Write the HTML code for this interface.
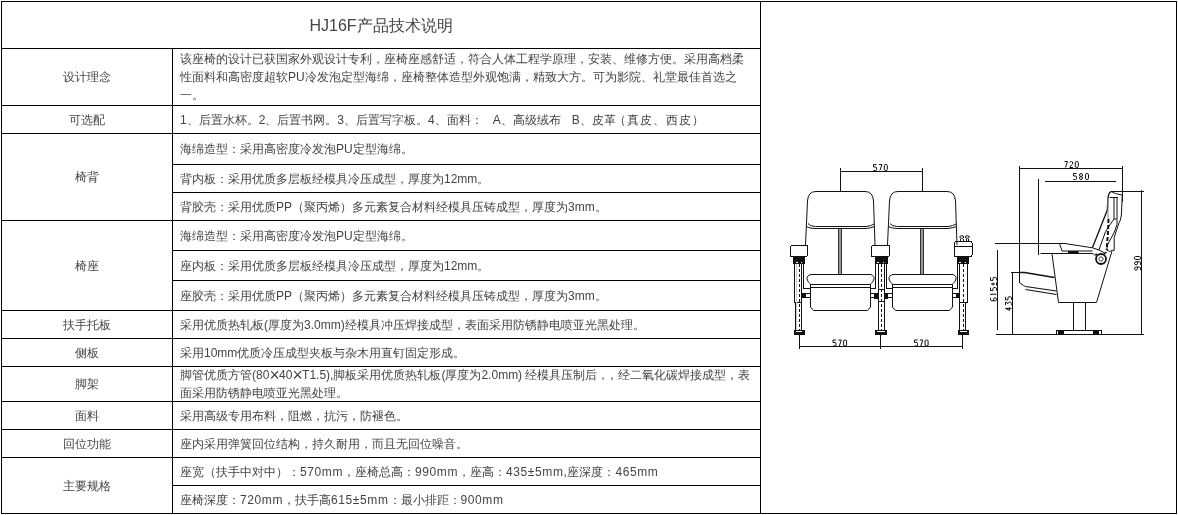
<!DOCTYPE html>
<html><head><meta charset="utf-8"><style>
html,body{margin:0;padding:0;background:#fff;}
body{width:1178px;height:515px;position:relative;overflow:hidden;font-family:"Liberation Sans",sans-serif;font-size:12px;color:#444;}
.l{position:absolute;background:#000;}
.c{position:absolute;display:flex;align-items:center;will-change:transform;}
.c span{white-space:nowrap;line-height:18px;display:block;}
.lab{left:2px;width:170px;justify-content:center;}
.con{left:173px;width:587px;}
.con span{padding-left:7px;}
i{font-style:normal;}
.n{letter-spacing:0.6px;}
.x{display:inline-block;transform:scale(1.45,1.6);margin:0 1.2px 0 1.5px;}
.title{will-change:transform;position:absolute;left:2px;top:3px;width:758px;height:46px;display:flex;align-items:center;justify-content:center;font-size:16px;}
svg{position:absolute;left:0;top:0;}
</style></head><body>
<div class="title"><span>HJ16F产品技术说明</span></div>
<div class="l" style="left:1px;top:1px;width:1176px;height:1px"></div><div class="l" style="left:1px;top:513px;width:1176px;height:1px"></div><div class="l" style="left:1px;top:48px;width:760px;height:1px"></div><div class="l" style="left:1px;top:105px;width:760px;height:1px"></div><div class="l" style="left:1px;top:133px;width:760px;height:1px"></div><div class="l" style="left:1px;top:220px;width:760px;height:1px"></div><div class="l" style="left:1px;top:310px;width:760px;height:1px"></div><div class="l" style="left:1px;top:338px;width:760px;height:1px"></div><div class="l" style="left:1px;top:366px;width:760px;height:1px"></div><div class="l" style="left:1px;top:401px;width:760px;height:1px"></div><div class="l" style="left:1px;top:429px;width:760px;height:1px"></div><div class="l" style="left:1px;top:457px;width:760px;height:1px"></div><div class="l" style="left:172px;top:164px;width:589px;height:1px"></div><div class="l" style="left:172px;top:192px;width:589px;height:1px"></div><div class="l" style="left:172px;top:250px;width:589px;height:1px"></div><div class="l" style="left:172px;top:280px;width:589px;height:1px"></div><div class="l" style="left:172px;top:485px;width:589px;height:1px"></div><div class="l" style="left:1px;top:1px;width:1px;height:513px"></div><div class="l" style="left:172px;top:48px;width:1px;height:466px"></div><div class="l" style="left:760px;top:1px;width:1px;height:513px"></div><div class="l" style="left:1176px;top:1px;width:1px;height:513px"></div>
<div class="c lab" style="top:49px;height:56px"><span>设计理念</span></div><div class="c lab" style="top:106px;height:27px"><span>可选配</span></div><div class="c lab" style="top:134px;height:86px"><span>椅背</span></div><div class="c lab" style="top:221px;height:89px"><span>椅座</span></div><div class="c lab" style="top:311px;height:27px"><span>扶手托板</span></div><div class="c lab" style="top:339px;height:27px"><span>侧板</span></div><div class="c lab" style="top:367px;height:34px"><span>脚架</span></div><div class="c lab" style="top:402px;height:27px"><span>面料</span></div><div class="c lab" style="top:430px;height:27px"><span>回位功能</span></div><div class="c lab" style="top:458px;height:55px"><span>主要规格</span></div><div class="c con" style="top:49px;height:56px"><span>该座椅的设计已获国家外观设计专利，座椅座感舒适，符合人体工程学原理，安装、维修方便。采用高档柔<br>性面料和高密度超软PU冷发泡定型海绵，座椅整体造型外观饱满，精致大方。可为影院、礼堂最佳首选之<br>一。</span></div><div class="c con" style="top:106px;height:27px"><span>1、后置水杯。2、后置书网。3、后置写字板。4、面料：<i style="margin-left:10px">A、高级绒布</i><i style="margin-left:11px">B、皮革</i><i style="margin-left:-2px;letter-spacing:1px">（真皮、西皮）</i></span></div><div class="c con" style="top:134px;height:30px"><span>海绵造型：采用高密度冷发泡PU定型海绵。</span></div><div class="c con" style="top:165px;height:27px"><span>背内板：采用优质多层板经模具冷压成型，厚度为12mm。</span></div><div class="c con" style="top:193px;height:27px"><span>背胶壳：采用优质PP（聚丙烯）多元素复合材料经模具压铸成型，厚度为3mm。</span></div><div class="c con" style="top:221px;height:29px"><span>海绵造型：采用高密度冷发泡PU定型海绵。</span></div><div class="c con" style="top:251px;height:29px"><span>座内板：采用优质多层板经模具冷压成型，厚度为12mm。</span></div><div class="c con" style="top:281px;height:29px"><span>座胶壳：采用优质PP（聚丙烯）多元素复合材料经模具压铸成型，厚度为3mm。</span></div><div class="c con" style="top:311px;height:27px"><span>采用优质热轧板(厚度为3.0mm)经模具冲压焊接成型，表面采用防锈静电喷亚光黑处理。</span></div><div class="c con" style="top:339px;height:27px"><span>采用10mm优质冷压成型夹板与杂木用直钉固定形成。</span></div><div class="c con" style="top:367px;height:34px"><span>脚管优质方管(80<i class="x">×</i>40<i class="x">×</i>T1.5),脚板采用优质热轧板(厚度为2.0mm) 经模具压制后<i style="letter-spacing:-3.5px">，</i>，经二氧化碳焊接成型，表<br>面采用防锈静电喷亚光黑处理。</span></div><div class="c con" style="top:402px;height:27px"><span>采用高级专用布料，阻燃，抗污，防褪色。</span></div><div class="c con" style="top:430px;height:27px"><span>座内采用弹簧回位结构，持久耐用，而且无回位噪音。</span></div><div class="c con" style="top:458px;height:27px"><span>座宽（扶手中对中）：<i class="n">570mm</i>，座椅总高：<i class="n">990mm</i>，座高：<i class="n">435±5mm,</i>座深度：<i class="n">465mm</i></span></div><div class="c con" style="top:486px;height:27px"><span>座椅深度：<i class="n">720mm</i>，扶手高<i class="n">615±5mm</i>：最小排距：<i class="n">900mm</i></span></div>
<svg width="1178" height="515" viewBox="0 0 1178 515" fill="none" stroke="#111" stroke-width="1">

<g shape-rendering="crispEdges">
<!-- top dimension -->
<path d="M840.5 168 V191 M922.5 168 V191 M840 171.5 H923"/>
</g>
<g>
<path d="M805.5 245 L807.5 201 Q808 191.5 816 191.5 H865 Q873 191.5 873.5 201 L875 245"/>
<path d="M808 223.5 Q810 226.5 815.5 226.5 H866 Q871 226 874 224"/>
<path d="M806 226.5 Q810 228.5 815 228.5 H866 Q871 228 874.5 226.5"/>
<rect x="838" y="229" width="4" height="45" fill="#999" stroke="none"/>
<path d="M838.5 229 V274 M841.5 229 V274" stroke="#333"/>
<path d="M811 274.5 Q806.5 275.5 807 279 Q807.5 282 810.5 284 M870.5 274.5 Q874.5 275.5 874 279 Q873.5 282 870.5 284 M810.5 274.5 H871"/>
<path d="M810 284.5 H871 M810 287.5 H871" shape-rendering="crispEdges"/>
<path d="M810.5 284.5 V307 L813.5 310.5 H867.5 L870.5 307 V284.5"/>
</g>
<g transform="translate(82 0)">
<path d="M805.5 245 L807.5 201 Q808 191.5 816 191.5 H865 Q873 191.5 873.5 201 L875 245"/>
<path d="M808 223.5 Q810 226.5 815.5 226.5 H866 Q871 226 874 224"/>
<path d="M806 226.5 Q810 228.5 815 228.5 H866 Q871 228 874.5 226.5"/>
<rect x="838" y="229" width="4" height="45" fill="#999" stroke="none"/>
<path d="M838.5 229 V274 M841.5 229 V274" stroke="#333"/>
<path d="M811 274.5 Q806.5 275.5 807 279 Q807.5 282 810.5 284 M870.5 274.5 Q874.5 275.5 874 279 Q873.5 282 870.5 284 M810.5 274.5 H871"/>
<path d="M810 284.5 H871 M810 287.5 H871" shape-rendering="crispEdges"/>
<path d="M810.5 284.5 V307 L813.5 310.5 H867.5 L870.5 307 V284.5"/>
</g>
<g shape-rendering="crispEdges">
<!-- dark blocks under armrests -->
<rect x="793" y="257" width="12" height="7" fill="#111" stroke="none"/>
<rect x="874.5" y="257" width="13.5" height="7" fill="#111" stroke="none"/>
<rect x="956.5" y="257" width="12.5" height="7" fill="#111" stroke="none"/>
<path d="M796 262.5 H798 M801 262.5 H802 M877 262.5 H879 M883 262.5 H884 M959 262.5 H961 M965 262.5 H966" stroke="#fff"/>
<!-- legs -->
<path d="M794.5 263 V302.5 H801 M795.5 302.5 V330 M801.5 263 V330 M803.5 263 V288.5 H810.5"/>
<path d="M799.5 264 V330" stroke-dasharray="3 2"/>
<path d="M796.5 264 V330" stroke="#ccc"/>
<path d="M875.5 263 V288.5 H870.5 M886.5 263 V288.5 H891.5 M878.5 263 V330 M884.5 263 V330 M878.5 289.5 H884.5 M878.5 301.5 H884.5"/>
<path d="M881.5 264 V330" stroke-dasharray="3 2"/>
<path d="M957.5 263 V288.5 H952.5 M959.5 263 V330 M967.5 263 V302.5 H960 M965.5 302.5 V330"/>
<path d="M963.5 264 V330" stroke-dasharray="3 2"/>
<!-- pivot blocks -->
<rect x="802" y="293" width="4" height="5" fill="#111" stroke="none"/>
<path d="M806 293.5 H810 M806 297.5 H810"/>
<rect x="874" y="293" width="4" height="5.5" fill="#111" stroke="none"/>
<path d="M870.5 293.5 H874 M870.5 297.5 H874"/>
<rect x="884.5" y="293" width="3.5" height="5.5" fill="#111" stroke="none"/>
<path d="M888 293.5 H892 M888 297.5 H892"/>
<rect x="956" y="293" width="4" height="5" fill="#111" stroke="none"/>
<path d="M952 293.5 H956 M952 297.5 H956"/>
<!-- feet -->
<rect x="793.5" y="330" width="11.5" height="5" fill="#111" stroke="none"/>
<rect x="875" y="330" width="12" height="5" fill="#111" stroke="none"/>
<rect x="957.5" y="330" width="11.5" height="5" fill="#111" stroke="none"/>
<path d="M796 331.5 H802 M877 331.5 H885 M960 331.5 H967" stroke="#fff"/>
<!-- armrests -->
<rect x="790.5" y="245.5" width="17" height="11" rx="1.5"/>
<rect x="871.5" y="245.5" width="18" height="11" rx="1.5"/>
<rect x="954.5" y="241.5" width="17.5" height="15" rx="1.5"/>
<path d="M954.5 246.5 H972"/>
<!-- bottom dimension -->
<path d="M799.5 335 V349 M880.5 335 V349 M962.5 335 V349 M799 346.5 H963"/>
</g>
<ellipse cx="961.8" cy="237" rx="2" ry="1.3"/><ellipse cx="967.3" cy="237" rx="2" ry="1.3"/><path d="M960.5 238.5 V241.5 M963 238.5 V241.5 M966 238.5 V241.5 M968.5 238.5 V241.5" shape-rendering="crispEdges"/>

<!-- side view dims -->
<g shape-rendering="crispEdges">
<path d="M1019 168.5 H1123 M1019.5 166 V282.5 M1122.5 166 V202"/>
<path d="M1044.5 181.5 H1116 M1038.5 179 V255"/>
<path d="M1111 191.5 H1144 M1141.5 190 V335 M995.5 334.5 H1144"/>
<path d="M995 243.5 H1065 M997.5 250 V330"/>
<path d="M1012.5 272.5 V335 M1011 272.5 H1024.5"/>
</g>
<path d="M1019.5 282.5 L1023.5 285.5 L1025.5 286.5"/>
<!-- side chair -->
<path d="M1065 243.5 L1092.4 247.8"/>
<path d="M1040.5 253.5 H1093 L1095.5 256" />
<path d="M1059.5 243.5 L1062 251 H1092.5"/>
<rect x="1068" y="251" width="10.5" height="2.5" fill="#111" stroke="none"/>
<path d="M1052 254 L1058.5 302.5 H1096.5 L1112 251"/>
<path d="M1019.5 272.5 H1024.5 L1054.5 277.5" stroke-width="1.4"/>
<path d="M1025.5 286.5 L1056.5 291 M1025.5 289.5 L1056.5 294.5" stroke-width="1.2"/>
<g shape-rendering="crispEdges">
<path d="M1073.5 302.5 V331 M1085.5 302.5 V331"/>
<rect x="1056.5" y="330.5" width="45" height="3.5" fill="#fff"/>
<rect x="1058" y="331" width="6" height="2.5" fill="#111" stroke="none"/>
<rect x="1093" y="331" width="6" height="2.5" fill="#111" stroke="none"/>
</g>
<circle cx="1101" cy="259" r="5" stroke-width="1.8"/>
<circle cx="1101" cy="259" r="2.2" stroke="#444"/>
<path d="M1104 254 L1106.5 252 M1097 255 L1095.5 253.5" stroke-width="1.5"/>
<!-- backrest -->
<path d="M1092.4 247.8 L1107.3 210 L1108 198 Q1108.5 193 1111 191.5" stroke-width="1.3"/>
<path d="M1111 191.5 Q1113 192.5 1115.5 193.5 L1122 195"/>
<path d="M1122.3 194.5 L1121.4 215 L1120.4 220 L1118.9 223.1 L1114.2 237.3 V250.4 H1112.5"/>
<path d="M1114 219 L1109.7 225 L1105.4 232 L1098.9 250"/>
<path d="M1117 198 V224.6 L1114.4 232 L1107.6 244.6 L1106.7 250"/>
<path d="M1108 198 V219" stroke="#888"/>
<path d="M1108.5 219 L1108 232 L1106.7 250" stroke-width="2" stroke-dasharray="4 2"/>
<path d="M1109.5 197.5 H1118 M1114 198 V219 H1116.5"/>
<path d="M1092.4 247.8 L1098.9 250 L1104.7 252.9 M1106.7 250 L1109.6 251.4 L1112.5 250.4"/>
<!-- digits -->
<g stroke="#111" stroke-width="1" fill="none">
<path transform="translate(873.00 164) scale(1 1.000)" d="M3.5 0.5H0.5V3H2.5Q3.5 3 3.5 4V5.5Q3.5 6.5 2.5 6.5H0.5"/>
<path transform="translate(878.40 164) scale(1 1.000)" d="M0.5 0.5H3.5L1.5 6.5"/>
<path transform="translate(883.80 164) scale(1 1.000)" d="M0.5 1.5Q0.5 0.5 2 0.5Q3.5 0.5 3.5 1.5V5.5Q3.5 6.5 2 6.5Q0.5 6.5 0.5 5.5Z"/>
<path transform="translate(832.50 339.5) scale(1 1.000)" d="M3.5 0.5H0.5V3H2.5Q3.5 3 3.5 4V5.5Q3.5 6.5 2.5 6.5H0.5"/>
<path transform="translate(837.80 339.5) scale(1 1.000)" d="M0.5 0.5H3.5L1.5 6.5"/>
<path transform="translate(843.10 339.5) scale(1 1.000)" d="M0.5 1.5Q0.5 0.5 2 0.5Q3.5 0.5 3.5 1.5V5.5Q3.5 6.5 2 6.5Q0.5 6.5 0.5 5.5Z"/>
<path transform="translate(914.00 339.5) scale(1 1.000)" d="M3.5 0.5H0.5V3H2.5Q3.5 3 3.5 4V5.5Q3.5 6.5 2.5 6.5H0.5"/>
<path transform="translate(919.30 339.5) scale(1 1.000)" d="M0.5 0.5H3.5L1.5 6.5"/>
<path transform="translate(924.60 339.5) scale(1 1.000)" d="M0.5 1.5Q0.5 0.5 2 0.5Q3.5 0.5 3.5 1.5V5.5Q3.5 6.5 2 6.5Q0.5 6.5 0.5 5.5Z"/>
<path transform="translate(1064.00 161) scale(1 1.000)" d="M0.5 0.5H3.5L1.5 6.5"/>
<path transform="translate(1069.40 161) scale(1 1.000)" d="M0.5 1.5Q0.5 0.5 2 0.5Q3.5 0.5 3.5 2Q3.5 3 2 4L0.5 6.5H3.5"/>
<path transform="translate(1074.80 161) scale(1 1.000)" d="M0.5 1.5Q0.5 0.5 2 0.5Q3.5 0.5 3.5 1.5V5.5Q3.5 6.5 2 6.5Q0.5 6.5 0.5 5.5Z"/>
<path transform="translate(1073.00 173) scale(1 1.000)" d="M3.5 0.5H0.5V3H2.5Q3.5 3 3.5 4V5.5Q3.5 6.5 2.5 6.5H0.5"/>
<path transform="translate(1079.00 173) scale(1 1.000)" d="M2 0.5Q0.5 0.5 0.5 2Q0.5 3.5 2 3.5Q3.5 3.5 3.5 2Q3.5 0.5 2 0.5ZM2 3.5Q0.5 3.5 0.5 5Q0.5 6.5 2 6.5Q3.5 6.5 3.5 5Q3.5 3.5 2 3.5Z"/>
<path transform="translate(1085.00 173) scale(1 1.000)" d="M0.5 1.5Q0.5 0.5 2 0.5Q3.5 0.5 3.5 1.5V5.5Q3.5 6.5 2 6.5Q0.5 6.5 0.5 5.5Z"/>
<path transform="translate(1134 270.60) rotate(-90) scale(1 1.000)" d="M3.5 3.5H2Q0.5 3.5 0.5 2Q0.5 0.5 2 0.5Q3.5 0.5 3.5 2V5.5Q3.5 6.5 2.5 6.5H0.5"/>
<path transform="translate(1134 265.30) rotate(-90) scale(1 1.000)" d="M3.5 3.5H2Q0.5 3.5 0.5 2Q0.5 0.5 2 0.5Q3.5 0.5 3.5 2V5.5Q3.5 6.5 2.5 6.5H0.5"/>
<path transform="translate(1134 260.00) rotate(-90) scale(1 1.000)" d="M0.5 1.5Q0.5 0.5 2 0.5Q3.5 0.5 3.5 1.5V5.5Q3.5 6.5 2 6.5Q0.5 6.5 0.5 5.5Z"/>
<path transform="translate(990 301.30) rotate(-90) scale(1 1.000)" d="M3.5 0.5H2Q0.5 0.5 0.5 2V5.5Q0.5 6.5 2 6.5Q3.5 6.5 3.5 5Q3.5 3.5 2 3.5H0.5"/>
<path transform="translate(990 296.20) rotate(-90) scale(1 1.000)" d="M1 1.5L2 0.5V6.5"/>
<path transform="translate(990 291.10) rotate(-90) scale(1 1.000)" d="M3.5 0.5H0.5V3H2.5Q3.5 3 3.5 4V5.5Q3.5 6.5 2.5 6.5H0.5"/>
<path transform="translate(990 286.00) rotate(-90) scale(1 1.000)" d="M2 1V5M0.5 3H3.5M0.5 6.5H3.5"/>
<path transform="translate(990 280.90) rotate(-90) scale(1 1.000)" d="M3.5 0.5H0.5V3H2.5Q3.5 3 3.5 4V5.5Q3.5 6.5 2.5 6.5H0.5"/>
<path transform="translate(1005 310.90) rotate(-90) scale(1 1.000)" d="M2.5 6.5V0.5L0.5 4.5H3.5"/>
<path transform="translate(1005 305.60) rotate(-90) scale(1 1.000)" d="M0.5 0.5H3.5L2 3Q3.5 3 3.5 4.5Q3.5 6.5 2 6.5H0.5"/>
<path transform="translate(1005 300.30) rotate(-90) scale(1 1.000)" d="M3.5 0.5H0.5V3H2.5Q3.5 3 3.5 4V5.5Q3.5 6.5 2.5 6.5H0.5"/>
</g>
<!-- /digits -->
</svg>

</body></html>
